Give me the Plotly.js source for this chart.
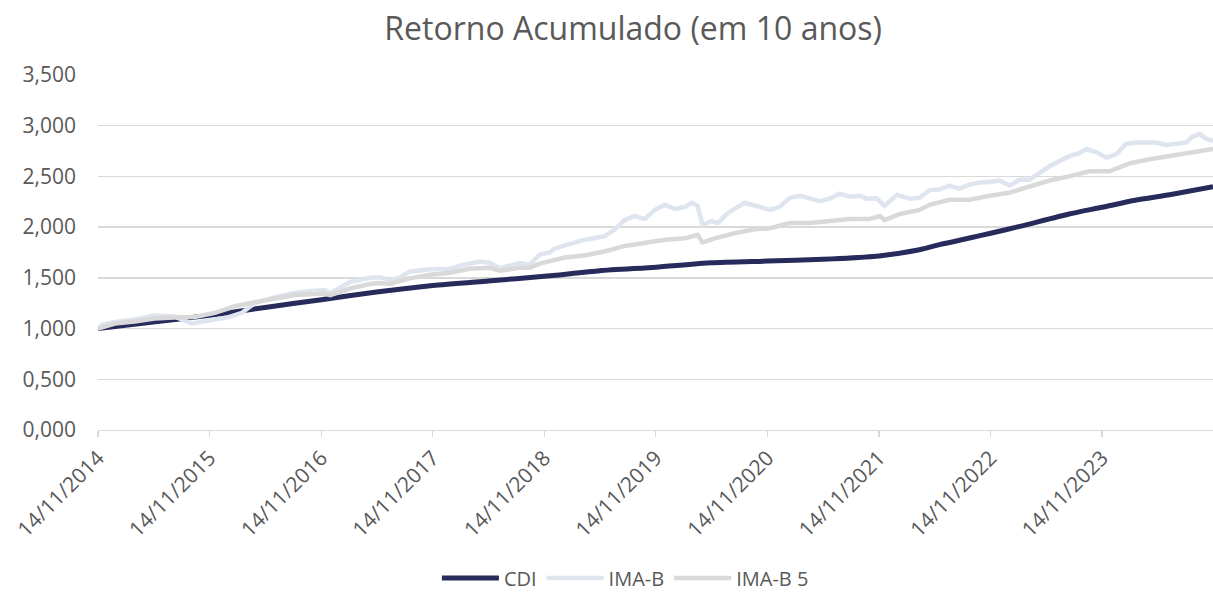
<!DOCTYPE html>
<html>
<head>
<meta charset="utf-8">
<script src="https://cdn.plot.ly/plotly-3.0.1.min.js"></script>
<style>html,body{margin:0;padding:0;background:#fff;}#chart{width:1213px;height:598px;}</style>
</head>
<body>
<div id="chart"></div>
<script>
const chartTitle = "Retorno Acumulado (em 10 anos)";
const seriesNames = ["CDI", "IMA-B", "IMA-B 5"];

const tickDates = ["2014-11-14","2015-11-14","2016-11-14","2017-11-14","2018-11-14","2019-11-14","2020-11-14","2021-11-14","2022-11-14","2023-11-14"];
const tickLabels = ["14/11/2014","14/11/2015","14/11/2016","14/11/2017","14/11/2018","14/11/2019","14/11/2020","14/11/2021","14/11/2022","14/11/2023"];

const cdiDates = ["2014-11-14","2015-05-14","2015-11-14","2016-05-14","2016-11-14","2017-05-14","2017-11-14","2018-05-14","2018-11-14","2019-05-14","2019-11-14","2020-05-14","2020-11-14","2021-05-14","2021-11-14","2022-03-26","2022-06-03","2022-09-06","2022-11-14","2023-02-18","2023-07-29","2023-11-14","2024-03-01","2024-06-22","2024-11-11"];
const cdiValues = [1.000,1.065,1.130,1.208,1.285,1.360,1.425,1.470,1.515,1.570,1.605,1.648,1.665,1.683,1.716,1.777,1.830,1.893,1.940,2.008,2.130,2.196,2.265,2.320,2.398];

const imabDates = ["2014-11-14","2014-11-30","2015-01-08","2015-03-14","2015-05-18","2015-07-22","2015-09-17","2015-11-08","2016-01-13","2016-02-28","2016-04-10","2016-06-15","2016-08-19","2016-10-14","2016-11-26","2016-12-13","2017-02-17","2017-04-21","2017-05-24","2017-06-26","2017-07-28","2017-08-30","2017-11-04","2018-01-09","2018-02-11","2018-04-16","2018-05-19","2018-06-20","2018-08-25","2018-09-27","2018-10-30","2018-12-02","2018-12-18","2019-03-25","2019-05-30","2019-07-02","2019-08-04","2019-09-06","2019-10-09","2019-11-11","2019-12-14","2020-01-15","2020-02-17","2020-03-10","2020-03-30","2020-04-15","2020-05-15","2020-06-04","2020-07-07","2020-08-31","2020-10-03","2020-11-05","2020-11-22","2020-12-24","2021-01-26","2021-02-28","2021-04-01","2021-05-03","2021-06-05","2021-07-08","2021-08-10","2021-09-12","2021-10-04","2021-11-06","2021-12-02","2022-01-11","2022-02-22","2022-03-26","2022-04-28","2022-05-30","2022-07-02","2022-08-04","2022-09-06","2022-10-09","2022-11-11","2022-12-13","2023-01-16","2023-02-18","2023-03-20","2023-04-23","2023-05-26","2023-06-26","2023-07-29","2023-08-31","2023-09-23","2023-10-26","2023-11-28","2023-12-31","2024-01-31","2024-03-04","2024-04-06","2024-05-09","2024-06-10","2024-07-14","2024-08-16","2024-09-04","2024-09-28","2024-10-20","2024-11-11"];
const imabValues = [1.000,1.040,1.065,1.090,1.130,1.120,1.050,1.080,1.110,1.155,1.250,1.310,1.350,1.370,1.380,1.350,1.460,1.500,1.505,1.480,1.500,1.560,1.585,1.590,1.620,1.660,1.650,1.595,1.645,1.630,1.730,1.750,1.790,1.875,1.910,1.975,2.070,2.110,2.080,2.170,2.220,2.180,2.200,2.240,2.210,2.020,2.060,2.040,2.140,2.240,2.210,2.190,2.170,2.200,2.290,2.310,2.280,2.255,2.280,2.330,2.300,2.310,2.280,2.285,2.210,2.320,2.280,2.290,2.365,2.370,2.410,2.380,2.420,2.440,2.445,2.460,2.410,2.470,2.465,2.540,2.600,2.650,2.700,2.730,2.770,2.740,2.685,2.720,2.820,2.835,2.830,2.835,2.810,2.825,2.835,2.890,2.920,2.870,2.850];

const imab5Dates = ["2014-11-14","2015-01-08","2015-03-14","2015-05-18","2015-07-22","2015-09-27","2015-12-01","2016-02-05","2016-04-10","2016-06-15","2016-08-19","2016-11-26","2016-12-13","2017-02-17","2017-04-21","2017-05-24","2017-06-26","2017-08-30","2017-11-04","2018-01-09","2018-03-14","2018-05-19","2018-06-20","2018-08-25","2018-09-27","2018-10-30","2018-12-02","2019-01-20","2019-03-25","2019-05-30","2019-08-04","2019-10-09","2019-12-14","2020-02-17","2020-03-30","2020-04-15","2020-05-25","2020-07-29","2020-10-03","2020-11-22","2021-01-26","2021-04-01","2021-06-05","2021-08-10","2021-10-14","2021-11-17","2021-12-02","2022-01-21","2022-03-26","2022-04-28","2022-07-02","2022-09-06","2022-11-11","2023-01-16","2023-03-20","2023-05-26","2023-07-29","2023-10-04","2023-12-08","2024-02-14","2024-04-17","2024-06-22","2024-08-26","2024-11-11"];
const imab5Values = [1.000,1.050,1.070,1.100,1.110,1.115,1.155,1.220,1.260,1.300,1.330,1.345,1.330,1.395,1.440,1.450,1.440,1.495,1.530,1.550,1.590,1.600,1.570,1.600,1.600,1.640,1.660,1.700,1.720,1.760,1.815,1.850,1.875,1.890,1.925,1.850,1.890,1.940,1.980,1.990,2.040,2.040,2.060,2.080,2.080,2.110,2.070,2.130,2.170,2.220,2.270,2.270,2.310,2.340,2.400,2.460,2.500,2.550,2.550,2.630,2.670,2.700,2.735,2.770];

const colors = ["#262B5B", "#DEE5EF", "#D9D9D9"];
const fontFam = "Open Sans, Noto Sans, sans-serif";
const textColor = "#595959";

const traces = [
  {x: cdiDates, y: cdiValues, name: seriesNames[0], type: "scatter", mode: "lines",
   line: {color: colors[0], width: 5, shape: "spline", smoothing: 0.6}},
  {x: imabDates, y: imabValues, name: seriesNames[1], type: "scatter", mode: "lines",
   line: {color: colors[1], width: 4.5}},
  {x: imab5Dates, y: imab5Values, name: seriesNames[2], type: "scatter", mode: "lines",
   line: {color: colors[2], width: 4.5}}
];

const layout = {
  width: 1213, height: 598,
  margin: {l: 98, r: 0, t: 75, b: 168, autoexpand: false},
  paper_bgcolor: "#ffffff", plot_bgcolor: "#ffffff",
  separators: ",.",
  title: {text: chartTitle, font: {family: fontFam, size: 32, color: textColor},
          x: 0.522, xanchor: "center", xref: "container", y: 1 - 29/598, yanchor: "middle", yref: "container"},
  xaxis: {
    type: "date", range: ["2014-11-14", "2024-11-11"],
    tickmode: "array", tickvals: tickDates, ticktext: tickLabels,
    tickangle: -45, tickfont: {family: fontFam, size: 21, color: textColor},
    showgrid: false, zeroline: false, showline: true, linecolor: "#D9D9D9", linewidth: 1.3,
    ticks: "outside", ticklen: 6, tickcolor: "#D9D9D9", tickwidth: 1.3,
    automargin: false, fixedrange: true
  },
  yaxis: {
    range: [0, 3.5], tick0: 0, dtick: 0.5, tickformat: ".3f",
    tickfont: {family: fontFam, size: 21, color: textColor},
    showgrid: true, gridcolor: "#D9D9D9", gridwidth: 1.3,
    zeroline: false, showline: false, ticks: "", ticklabelstandoff: 21,
    automargin: false, fixedrange: true
  },
  showlegend: true,
  legend: {orientation: "h", x: 0.473, xanchor: "center", y: (430 - 578) / 355, yanchor: "middle",
           font: {family: fontFam, size: 20, color: textColor}, itemwidth: 57, bgcolor: "rgba(0,0,0,0)"}
};

Plotly.newPlot("chart", traces, layout, {displayModeBar: false, staticPlot: true});
</script>
</body>
</html>
